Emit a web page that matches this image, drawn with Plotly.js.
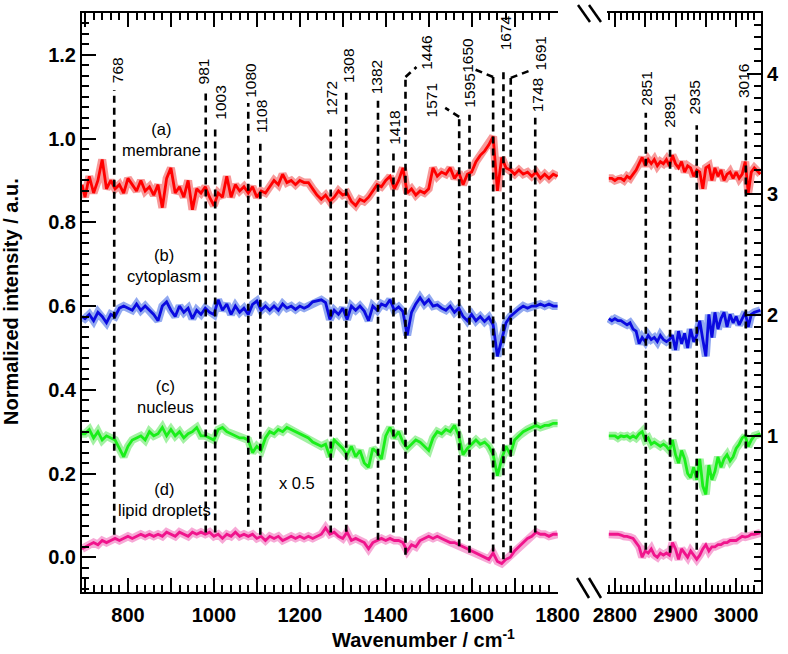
<!DOCTYPE html>
<html><head><meta charset="utf-8">
<script src="https://cdn.plot.ly/plotly-3.0.1.min.js"></script>
<style>html,body{margin:0;padding:0;background:#fff}</style>
</head><body><div id="chart" style="width:788px;height:654px"></div>
<script>
// ---------- DATA ----------
const wavenumberLow = [693,700,710,720,730,740,750,760,770,780,790,800,810,820,830,840,850,860,870,880,890,900,910,920,930,940,950,960,970,980,990,1000,1010,1020,1030,1040,1050,1060,1070,1080,1090,1100,1110,1120,1130,1140,1150,1160,1170,1180,1190,1200,1210,1220,1230,1240,1250,1260,1270,1280,1290,1300,1310,1320,1330,1340,1350,1360,1370,1380,1390,1400,1410,1420,1430,1440,1450,1460,1470,1480,1490,1500,1510,1520,1530,1540,1550,1560,1570,1580,1590,1600,1610,1620,1630,1640,1650,1660,1670,1680,1690,1700,1710,1720,1730,1740,1750,1760,1770,1780,1790,1800];
const wavenumberHigh = [2790,2795,2800,2805,2810,2815,2820,2825,2830,2835,2840,2845,2850,2855,2860,2865,2870,2875,2880,2885,2890,2895,2900,2905,2910,2915,2920,2925,2930,2935,2940,2945,2950,2955,2960,2965,2970,2975,2980,2985,2990,2995,3000,3005,3010,3015,3020,3025,3030,3040];

const membraneLow = [0.89,0.86,0.91,0.87,0.90,0.95,0.88,0.90,0.88,0.89,0.87,0.905,0.89,0.875,0.90,0.875,0.885,0.865,0.89,0.835,0.905,0.93,0.87,0.885,0.86,0.90,0.83,0.88,0.87,0.885,0.86,0.84,0.87,0.86,0.91,0.86,0.89,0.875,0.885,0.87,0.885,0.86,0.875,0.87,0.885,0.90,0.89,0.915,0.895,0.90,0.89,0.90,0.895,0.895,0.88,0.865,0.855,0.865,0.85,0.86,0.875,0.865,0.87,0.85,0.84,0.855,0.85,0.86,0.875,0.89,0.885,0.90,0.91,0.88,0.90,0.93,0.87,0.88,0.865,0.875,0.87,0.88,0.93,0.91,0.92,0.915,0.93,0.905,0.92,0.89,0.915,0.92,0.945,0.96,0.97,0.985,1.005,0.875,0.955,0.93,0.925,0.915,0.925,0.915,0.92,0.91,0.92,0.905,0.915,0.905,0.915,0.91];
const cytoplasmLow = [0.575,0.57,0.58,0.565,0.585,0.575,0.56,0.58,0.575,0.595,0.60,0.595,0.59,0.605,0.59,0.60,0.59,0.58,0.565,0.60,0.61,0.59,0.575,0.60,0.585,0.595,0.57,0.59,0.58,0.595,0.585,0.58,0.615,0.59,0.605,0.58,0.60,0.585,0.595,0.58,0.604,0.612,0.59,0.60,0.59,0.60,0.59,0.605,0.595,0.60,0.592,0.60,0.595,0.60,0.61,0.612,0.615,0.608,0.568,0.59,0.58,0.595,0.568,0.60,0.59,0.60,0.588,0.565,0.60,0.59,0.605,0.60,0.615,0.59,0.598,0.587,0.53,0.585,0.605,0.62,0.605,0.615,0.60,0.603,0.595,0.59,0.60,0.585,0.595,0.575,0.565,0.58,0.565,0.575,0.563,0.573,0.555,0.48,0.52,0.56,0.575,0.585,0.593,0.60,0.595,0.60,0.60,0.605,0.60,0.605,0.60,0.60];
const nucleusLow = [0.295,0.295,0.305,0.285,0.30,0.28,0.29,0.285,0.28,0.26,0.24,0.265,0.28,0.285,0.29,0.28,0.30,0.29,0.295,0.31,0.29,0.305,0.29,0.30,0.285,0.295,0.30,0.31,0.29,0.29,0.285,0.28,0.305,0.31,0.30,0.295,0.29,0.285,0.285,0.28,0.25,0.265,0.255,0.285,0.30,0.295,0.305,0.30,0.31,0.305,0.30,0.295,0.29,0.285,0.275,0.27,0.265,0.27,0.24,0.28,0.27,0.26,0.245,0.265,0.24,0.255,0.225,0.215,0.26,0.25,0.235,0.29,0.31,0.285,0.30,0.275,0.26,0.27,0.28,0.275,0.265,0.255,0.285,0.30,0.295,0.305,0.30,0.315,0.29,0.245,0.26,0.27,0.28,0.27,0.275,0.265,0.245,0.195,0.235,0.265,0.245,0.28,0.29,0.30,0.305,0.31,0.315,0.31,0.315,0.315,0.32,0.32];
const lipidLow = [0.02,0.025,0.03,0.035,0.03,0.04,0.035,0.04,0.045,0.04,0.045,0.05,0.045,0.05,0.055,0.05,0.055,0.05,0.055,0.05,0.06,0.055,0.05,0.06,0.055,0.05,0.06,0.055,0.06,0.055,0.06,0.05,0.055,0.045,0.055,0.05,0.06,0.05,0.055,0.05,0.055,0.045,0.05,0.04,0.05,0.045,0.05,0.04,0.045,0.05,0.045,0.05,0.045,0.05,0.045,0.05,0.055,0.07,0.055,0.06,0.05,0.045,0.06,0.04,0.045,0.04,0.035,0.02,0.035,0.04,0.045,0.04,0.045,0.04,0.04,0.035,0.015,0.03,0.025,0.04,0.045,0.05,0.045,0.05,0.045,0.04,0.035,0.035,0.03,0.025,0.02,0.015,0.01,0.005,0.0,-0.005,0.01,-0.01,-0.015,-0.005,0.0,0.015,0.025,0.035,0.045,0.05,0.06,0.055,0.055,0.05,0.055,0.055];

const membraneHigh = [0.905,0.905,0.9,0.905,0.905,0.9,0.91,0.905,0.915,0.925,0.94,0.955,0.935,0.95,0.94,0.95,0.935,0.945,0.94,0.95,0.935,0.96,0.94,0.93,0.945,0.92,0.935,0.93,0.91,0.925,0.92,0.88,0.93,0.935,0.9,0.93,0.91,0.925,0.9,0.915,0.92,0.905,0.92,0.905,0.915,0.945,0.87,0.92,0.93,0.915];
const cytoplasmHigh = [0.57,0.565,0.57,0.565,0.565,0.56,0.555,0.56,0.545,0.54,0.51,0.525,0.515,0.53,0.52,0.525,0.515,0.53,0.52,0.515,0.52,0.53,0.495,0.54,0.51,0.535,0.5,0.545,0.515,0.53,0.565,0.52,0.48,0.58,0.525,0.585,0.545,0.57,0.585,0.55,0.58,0.56,0.575,0.555,0.57,0.585,0.55,0.58,0.585,0.59];
const nucleusHigh = [0.29,0.29,0.29,0.285,0.29,0.288,0.29,0.285,0.29,0.285,0.295,0.3,0.28,0.285,0.27,0.275,0.27,0.265,0.27,0.265,0.255,0.28,0.245,0.225,0.255,0.235,0.2,0.19,0.215,0.185,0.235,0.17,0.15,0.22,0.185,0.205,0.24,0.215,0.235,0.245,0.23,0.24,0.26,0.27,0.285,0.29,0.265,0.28,0.29,0.295];
const lipidHigh = [0.055,0.055,0.055,0.055,0.053,0.05,0.05,0.048,0.045,0.035,0.025,0.0,0.015,0.01,0.02,0.005,0.0,0.01,0.005,0.01,0.005,0.035,0.02,-0.005,0.02,0.01,0.0,0.015,0.005,-0.005,0.005,0.02,0.03,0.015,0.025,0.025,0.03,0.03,0.035,0.035,0.04,0.04,0.04,0.045,0.05,0.048,0.05,0.055,0.055,0.058];

const peaksLow = [768,981,1003,1080,1108,1272,1308,1382,1418,1446,1571,1595,1650,1674,1691,1748];
const peaksHigh = [2851,2891,2935,3016];
const rightAxisTicks = [1,2,3,4];
const sampleLabels = ['(a)<br>membrane','(b)<br>cytoplasm','(c)<br>nucleus','(d)<br>lipid droplets'];

// ---------- GEOMETRY / STYLE (positions only) ----------
// [lineBottom, lineTop, labelBottom, labelShiftPx, bendDx, bendY]
const geomLow = [
 [0.054,1.116,1.128,3],[0.059,1.112,1.124,-2],[0.059,1.033,1.040,5.6],[0.073,1.085,1.093,1.4],
 [0.054,0.999,1.009,1.4],[0.059,1.032,1.050,1],[0.061,1.121,1.128,1.7],[0.042,1.093,1.100,-1.4],
 [0.059,0.966,0.980,1.4],[0.006,1.147,1.159,20.3,25.6,1.171],[0.026,1.052,1.045,-27.5,-32.6,1.0735],
 [0.011,1.057,1.069,0.5],[0.014,1.147,1.153,-26.4,-41.9,1.165],[-0.005,1.165,1.205,1.6],
 [0.011,1.145,1.158,29.3,51.2,1.165],[0.059,1.050,1.057,2.3]
];
const geomHigh = [[0.018,1.062,1.0735,1],[0.011,1.014,1.021,0],[0.018,1.032,1.052,-2],[0.059,1.085,1.093,-2.5]];
const labelPos = [[161,139],[163.5,265],[165.3,396.3],[164.5,499]];

const FONT = '"Liberation Sans", Arial, sans-serif';
const seriesStyle = [
  {lo: membraneLow, hi: membraneHigh, line:'#ff0000', band:'rgba(244,110,110,0.7)'},
  {lo: cytoplasmLow, hi: cytoplasmHigh, line:'#0a0ae0', band:'rgba(110,140,235,0.75)'},
  {lo: nucleusLow, hi: nucleusHigh, line:'#1aee1a', band:'rgba(140,238,140,0.8)'},
  {lo: lipidLow, hi: lipidHigh, line:'#f0148c', band:'rgba(244,140,200,0.75)'}
];

const traces = [];
seriesStyle.forEach(s => {
  traces.push({x: wavenumberLow, y: s.lo, xaxis:'x', yaxis:'y', mode:'lines', line:{color:s.band, width:8}, hoverinfo:'skip'});
  traces.push({x: wavenumberHigh, y: s.hi, xaxis:'x2', yaxis:'y2', mode:'lines', line:{color:s.band, width:8}, hoverinfo:'skip'});
});
seriesStyle.forEach(s => {
  traces.push({x: wavenumberLow, y: s.lo, xaxis:'x', yaxis:'y', mode:'lines', line:{color:s.line, width:2.8}});
  traces.push({x: wavenumberHigh, y: s.hi, xaxis:'x2', yaxis:'y2', mode:'lines', line:{color:s.line, width:2.8}});
});
traces.push({x:[], y:[], xaxis:'x2', yaxis:'y3', mode:'lines', hoverinfo:'skip'});
traces.push({x:[], y:[], xaxis:'x3', yaxis:'y', mode:'lines', hoverinfo:'skip'});
traces.push({x:[], y:[], xaxis:'x4', yaxis:'y2', mode:'lines', hoverinfo:'skip'});

const shapes = [];
const annotations = [];
const dashLine = {color:'#000', width:2.6, dash:'7px,5px'};
function addPeaks(peaks, geom, xr, yr) {
  peaks.forEach((p, i) => {
    const g = geom[i];
    shapes.push({type:'line', xref:xr, yref:yr, x0:p, x1:p, y0:g[0], y1:g[1], line:dashLine});
    if (g.length > 4) {
      shapes.push({type:'line', xref:xr, yref:yr, x0:p, x1:p + g[4], y0:g[1], y1:g[5], line:dashLine});
    }
    annotations.push({xref:xr, yref:yr, x:p, y:g[2], xshift:g[3], text:String(p), textangle:-90,
      xanchor:'center', yanchor:'bottom', showarrow:false, font:{family:FONT, size:15.5, color:'#000'}});
  });
}
addPeaks(peaksLow, geomLow, 'x', 'y');
addPeaks(peaksHigh, geomHigh, 'x2', 'y2');

const W = 679, H = 579, L = 82, T = 13;
const px = v => (v - L) / W, py = v => (T + H - v) / H;
sampleLabels.forEach((t, i) => {
  annotations.push({xref:'paper', yref:'paper', x:px(labelPos[i][0]), y:py(labelPos[i][1]), text:t,
    showarrow:false, xanchor:'center', yanchor:'middle', font:{family:FONT, size:16.5, color:'#000'}});
});
annotations.push({xref:'paper', yref:'paper', x:px(296.7), y:py(483.3), text:'x 0.5', showarrow:false,
  xanchor:'center', yanchor:'middle', font:{family:FONT, size:16.5, color:'#000'}});
annotations.push({xref:'paper', yref:'paper', x:px(11), y:py(302), text:'Normalized intensity / a.u.', textangle:-90,
  showarrow:false, xanchor:'center', yanchor:'middle', font:{family:FONT, size:20, weight:'bold', color:'#000'}});
annotations.push({xref:'paper', yref:'paper', x:px(423.5), y:py(653), text:'Wavenumber / cm<sup>-1</sup>',
  showarrow:false, xanchor:'center', yanchor:'bottom', font:{family:FONT, size:20, weight:'bold', color:'#000'}});

// break marks
const brk = {color:'#000', width:2.5};
[[578,5,590,22],[589,5,601,22],[577,578,589,598],[589,578,601,598]].forEach(b => {
  shapes.push({type:'line', xref:'paper', yref:'paper', x0:px(b[0]), y0:py(b[1]), x1:px(b[2]), y1:py(b[3]), line:brk});
});

const tickFont = {family:FONT, size:20, weight:'bold', color:'#000'};
const axCommon = {showline:true, linewidth:2, linecolor:'#000', ticks:'inside', tickcolor:'#000', tickwidth:1.5,
  ticklen:14, showgrid:false, zeroline:false, tickfont:tickFont};
const lowLabelTicks = [800,1000,1200,1400,1600,1800];
const lowPlainTicks = [700,900,1100,1300,1500,1700];
const highLabelTicks = [2800,2900,3000];
const highPlainTicks = [2850,2950];
const minorX = d => ({dtick:d, tick0:0, ticks:'inside', ticklen:7, tickwidth:1.5, tickcolor:'#000'});

const layout = {
  width:788, height:654, margin:{l:82, r:27, t:13, b:62},
  paper_bgcolor:'#fff', plot_bgcolor:'#fff', showlegend:false,
  font:{family:FONT, color:'#000'},
  xaxis: Object.assign({}, axCommon, {domain:[0, 476/679], range:[693,1801], anchor:'y', mirror:'ticks',
    tickmode:'array', tickvals:lowLabelTicks, ticklabelstandoff:4, minor:minorX(20)}),
  xaxis3: {overlaying:'x', anchor:'y', range:[693,1801], showline:false, showgrid:false, zeroline:false,
    ticks:'inside', ticklen:14, tickwidth:1.5, tickcolor:'#000', mirror:'ticks', showticklabels:false,
    tickmode:'array', tickvals:lowPlainTicks},
  yaxis: Object.assign({}, axCommon, {domain:[0,1], range:[-0.083,1.3], anchor:'x', tick0:0, dtick:0.2, tickformat:'.1f',
    minor:{dtick:0.025, tick0:0, ticks:'inside', ticklen:7, tickwidth:1.5, tickcolor:'#000'}}),
  xaxis2: Object.assign({}, axCommon, {domain:[525/679, 1], range:[2787,3041], anchor:'y2', mirror:'ticks',
    tickmode:'array', tickvals:highLabelTicks, ticklabelstandoff:4, minor:minorX(10)}),
  xaxis4: {overlaying:'x2', anchor:'y2', range:[2787,3041], showline:false, showgrid:false, zeroline:false,
    ticks:'inside', ticklen:14, tickwidth:1.5, tickcolor:'#000', mirror:'ticks', showticklabels:false,
    tickmode:'array', tickvals:highPlainTicks},
  yaxis2: {domain:[0,1], range:[-0.083,1.3], anchor:'x2', visible:false, showgrid:false, zeroline:false},
  yaxis3: Object.assign({}, axCommon, {overlaying:'y2', side:'right', anchor:'x2', range:[-0.294,4.501],
    tickmode:'array', tickvals:rightAxisTicks,
    minor:{dtick:0.1, tick0:0, ticks:'inside', ticklen:7, tickwidth:1.5, tickcolor:'#000'}}),
  shapes: shapes,
  annotations: annotations
};

Plotly.newPlot('chart', traces, layout, {displayModeBar:false, responsive:false});
</script>
</body></html>
